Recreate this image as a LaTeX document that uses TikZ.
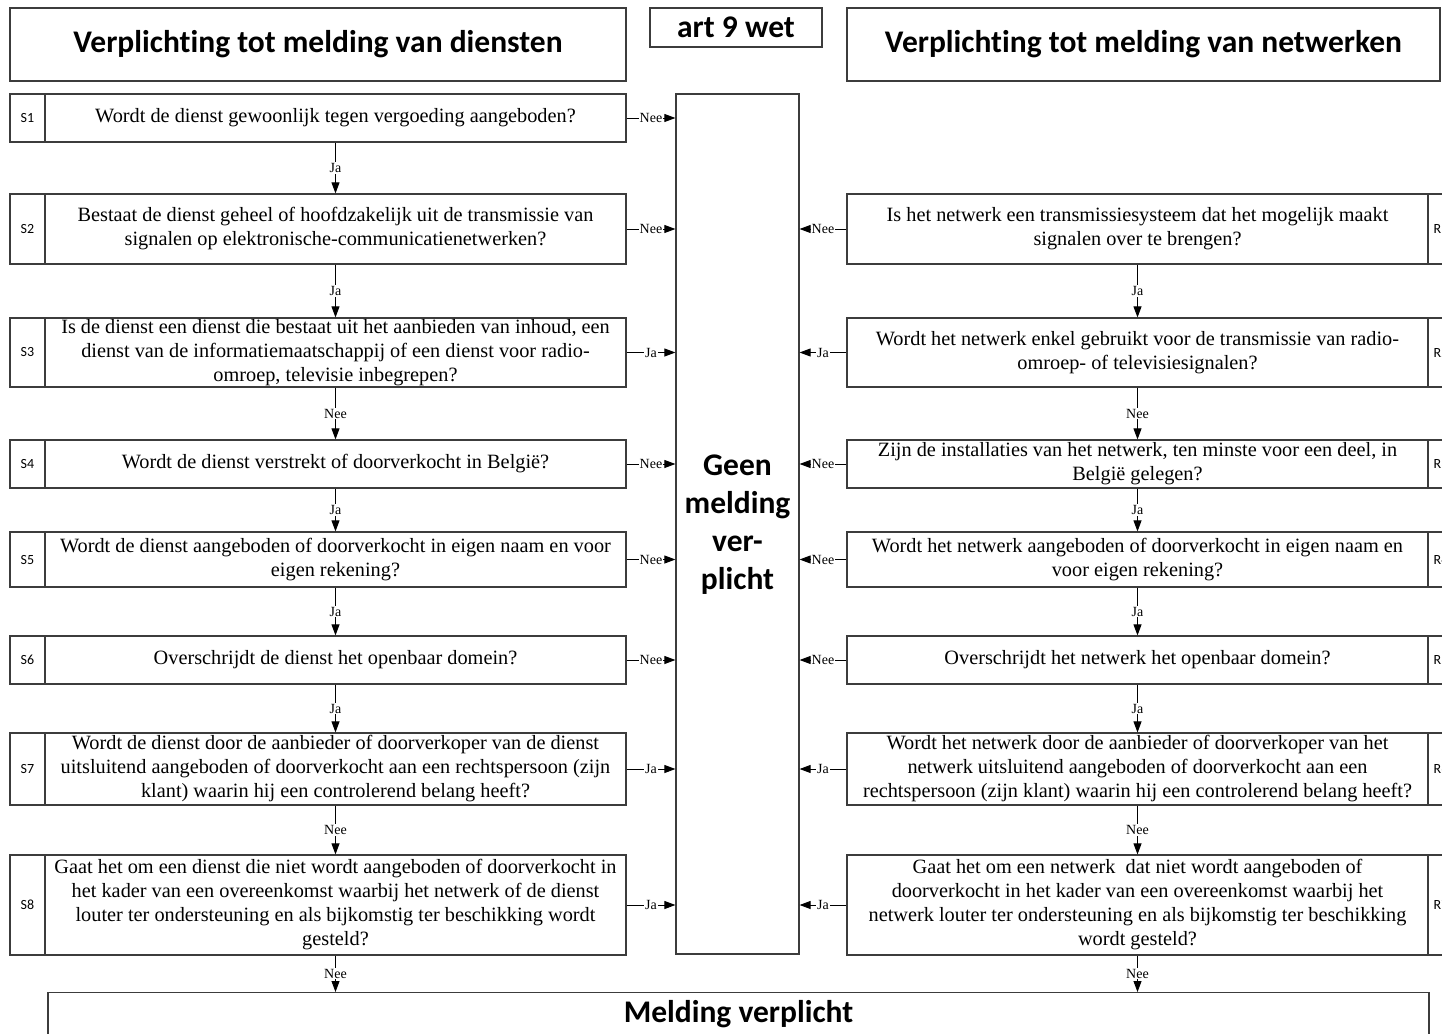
\documentclass[tikz,border=0pt]{standalone}
\usepackage{fontspec}
\setmainfont{Liberation Serif}
\newfontfamily\hdfont[Ligatures=NoCommon]{Carlito}
\usetikzlibrary{arrows.meta}
\definecolor{lc}{RGB}{60,60,60}
\begin{document}
\begin{tikzpicture}[x=1pt,y=-1pt,
  box/.style={draw=lc, line width=1.2pt, inner sep=0pt, rectangle},
  qbox/.style={box, align=center, minimum width=581pt, font=\fontsize{20.3}{24}\selectfont},
  sbox/.style={box, minimum width=35pt, font=\hdfont\fontsize{14}{16}\selectfont},
  rbox/.style={box, minimum width=26pt, font=\hdfont\fontsize{14}{16}\selectfont},
  hbox/.style={box, align=center, font=\hdfont\bfseries\fontsize{31.5}{38}\selectfont},
  arr/.style={draw=black, line width=0.9pt, -{Triangle[length=11pt,width=8pt]}},
  lab/.style={fill=white, inner sep=1pt, font=\fontsize{14}{15}\selectfont}
]
\useasboundingbox (0,0) rectangle (1442,1033);
\clip (0,0) rectangle (1442,1033);

% headers
\node[hbox, minimum width=616pt, minimum height=73pt] (hl) at (318,44.5) {Verplicht\kern0pt ing tot melding van diensten};
\node[hbox, minimum width=172pt, minimum height=39pt] (art) at (736,27.5) {art 9 wet};
\node[hbox, minimum width=593pt, minimum height=73pt] (hr) at (1143.5,44.5) {Verplicht\kern0pt ing tot melding van netwerken};

% central box
\node[hbox, minimum width=123pt, minimum height=860pt, text depth=4pt] (geen) at (737.5,524) {Geen\\melding\\ver-\\plicht};

% left column
\node[sbox, minimum height=48pt] (s1) at (27.5,118) {S1};
\node[qbox, minimum height=48pt] (q1) at (335.5,118) {Wordt de dienst gewoonlijk tegen vergoeding aangeboden?};
\node[sbox, minimum height=70pt] (s2) at (27.5,229) {S2};
\node[qbox, minimum height=70pt] (q2) at (335.5,229) {Bestaat de dienst geheel of hoofdzakelijk uit de transmissie van\\signalen op elektronische-communicatienetwerken?};
\node[sbox, minimum height=69pt] (s3) at (27.5,352.5) {S3};
\node[qbox, minimum height=69pt] (q3) at (335.5,352.5) {Is de dienst een dienst die bestaat uit het aanbieden van inhoud, een\\dienst van de informatiemaatschappij of een dienst voor radio-\\omroep, televisie inbegrepen?};
\node[sbox, minimum height=48pt] (s4) at (27.5,464) {S4};
\node[qbox, minimum height=48pt] (q4) at (335.5,464) {Wordt de dienst verstrekt of doorverkocht in België?};
\node[sbox, minimum height=55pt] (s5) at (27.5,559.5) {S5};
\node[qbox, minimum height=55pt] (q5) at (335.5,559.5) {Wordt de dienst aangeboden of doorverkocht in eigen naam en voor\\eigen rekening?};
\node[sbox, minimum height=48pt] (s6) at (27.5,660) {S6};
\node[qbox, minimum height=48pt] (q6) at (335.5,660) {Overschrijdt de dienst het openbaar domein?};
\node[sbox, minimum height=72pt] (s7) at (27.5,769) {S7};
\node[qbox, minimum height=72pt] (q7) at (335.5,769) {Wordt de dienst door de aanbieder of doorverkoper van de dienst\\uitsluitend aangeboden of doorverkocht aan een rechtspersoon (zijn\\klant) waarin hij een controlerend belang heeft?};
\node[sbox, minimum height=100pt] (s8) at (27.5,905) {S8};
\node[qbox, minimum height=100pt] (q8) at (335.5,905) {Gaat het om een dienst die niet wordt aangeboden of doorverkocht in\\het kader van een overeenkomst waarbij het netwerk of de dienst\\louter ter ondersteuning en als bijkomstig ter beschikking wordt\\gesteld?};

% right column
\node[qbox, minimum height=70pt] (r2) at (1137.5,229) {Is het netwerk een transmissiesysteem dat het mogelijk maakt\\signalen over te brengen?};
\node[rbox, minimum height=70pt] (c2) at (1441,229) {R1};
\node[qbox, minimum height=69pt] (r3) at (1137.5,352.5) {Wordt het netwerk enkel gebruikt voor de transmissie van radio-\\omroep- of televisiesignalen?};
\node[rbox, minimum height=69pt] (c3) at (1441,352.5) {R2};
\node[qbox, minimum height=48pt] (r4) at (1137.5,464) {Zijn de installaties van het netwerk, ten minste voor een deel, in\\België gelegen?};
\node[rbox, minimum height=48pt] (c4) at (1441,464) {R3};
\node[qbox, minimum height=55pt] (r5) at (1137.5,559.5) {Wordt het netwerk aangeboden of doorverkocht in eigen naam en\\voor eigen rekening?};
\node[rbox, minimum height=55pt] (c5) at (1441,559.5) {R4};
\node[qbox, minimum height=48pt] (r6) at (1137.5,660) {Overschrijdt het netwerk het openbaar domein?};
\node[rbox, minimum height=48pt] (c6) at (1441,660) {R5};
\node[qbox, minimum height=72pt] (r7) at (1137.5,769) {Wordt het netwerk door de aanbieder of doorverkoper van het\\netwerk uitsluitend aangeboden of doorverkocht aan een\\rechtspersoon (zijn klant) waarin hij een controlerend belang heeft?};
\node[rbox, minimum height=72pt] (c7) at (1441,769) {R6};
\node[qbox, minimum height=100pt] (r8) at (1137.5,905) {Gaat het om een netwerk\ \ dat niet wordt aangeboden of\\doorverkocht in het kader van een overeenkomst waarbij het\\netwerk louter ter ondersteuning en als bijkomstig ter beschikking\\wordt gesteld?};
\node[rbox, minimum height=100pt] (c8) at (1441,905) {R7};

% bottom box
\node[hbox, minimum width=1381pt, minimum height=60pt, anchor=north, text depth=22pt] (meld) at (738.5,992) {Melding verplicht};

% vertical arrows left
\draw[arr] (q1.south) -- node[lab]{Ja} (q2.north);
\draw[arr] (q2.south) -- node[lab]{Ja} (q3.north);
\draw[arr] (q3.south) -- node[lab]{Nee} (q4.north);
\draw[arr] (q4.south) -- node[lab]{Ja} (q5.north);
\draw[arr] (q5.south) -- node[lab]{Ja} (q6.north);
\draw[arr] (q6.south) -- node[lab]{Ja} (q7.north);
\draw[arr] (q7.south) -- node[lab]{Nee} (q8.north);
\draw[arr] (q8.south) -- node[lab]{Nee} (q8.south |- meld.north);

% vertical arrows right
\draw[arr] (r2.south) -- node[lab]{Ja} (r3.north);
\draw[arr] (r3.south) -- node[lab]{Nee} (r4.north);
\draw[arr] (r4.south) -- node[lab]{Ja} (r5.north);
\draw[arr] (r5.south) -- node[lab]{Ja} (r6.north);
\draw[arr] (r6.south) -- node[lab]{Ja} (r7.north);
\draw[arr] (r7.south) -- node[lab]{Nee} (r8.north);
\draw[arr] (r8.south) -- node[lab]{Nee} (r8.south |- meld.north);

% horizontal arrows left
\draw[arr] (q1.east) -- node[lab]{Nee} (q1.east -| geen.west);
\draw[arr] (q2.east) -- node[lab]{Nee} (q2.east -| geen.west);
\draw[arr] (q3.east) -- node[lab]{Ja} (q3.east -| geen.west);
\draw[arr] (q4.east) -- node[lab]{Nee} (q4.east -| geen.west);
\draw[arr] (q5.east) -- node[lab]{Nee} (q5.east -| geen.west);
\draw[arr] (q6.east) -- node[lab]{Nee} (q6.east -| geen.west);
\draw[arr] (q7.east) -- node[lab]{Ja} (q7.east -| geen.west);
\draw[arr] (q8.east) -- node[lab]{Ja} (q8.east -| geen.west);

% horizontal arrows right
\draw[arr] (r2.west) -- node[lab]{Nee} (r2.west -| geen.east);
\draw[arr] (r3.west) -- node[lab]{Ja} (r3.west -| geen.east);
\draw[arr] (r4.west) -- node[lab]{Nee} (r4.west -| geen.east);
\draw[arr] (r5.west) -- node[lab]{Nee} (r5.west -| geen.east);
\draw[arr] (r6.west) -- node[lab]{Nee} (r6.west -| geen.east);
\draw[arr] (r7.west) -- node[lab]{Ja} (r7.west -| geen.east);
\draw[arr] (r8.west) -- node[lab]{Ja} (r8.west -| geen.east);
\end{tikzpicture}
\end{document}
